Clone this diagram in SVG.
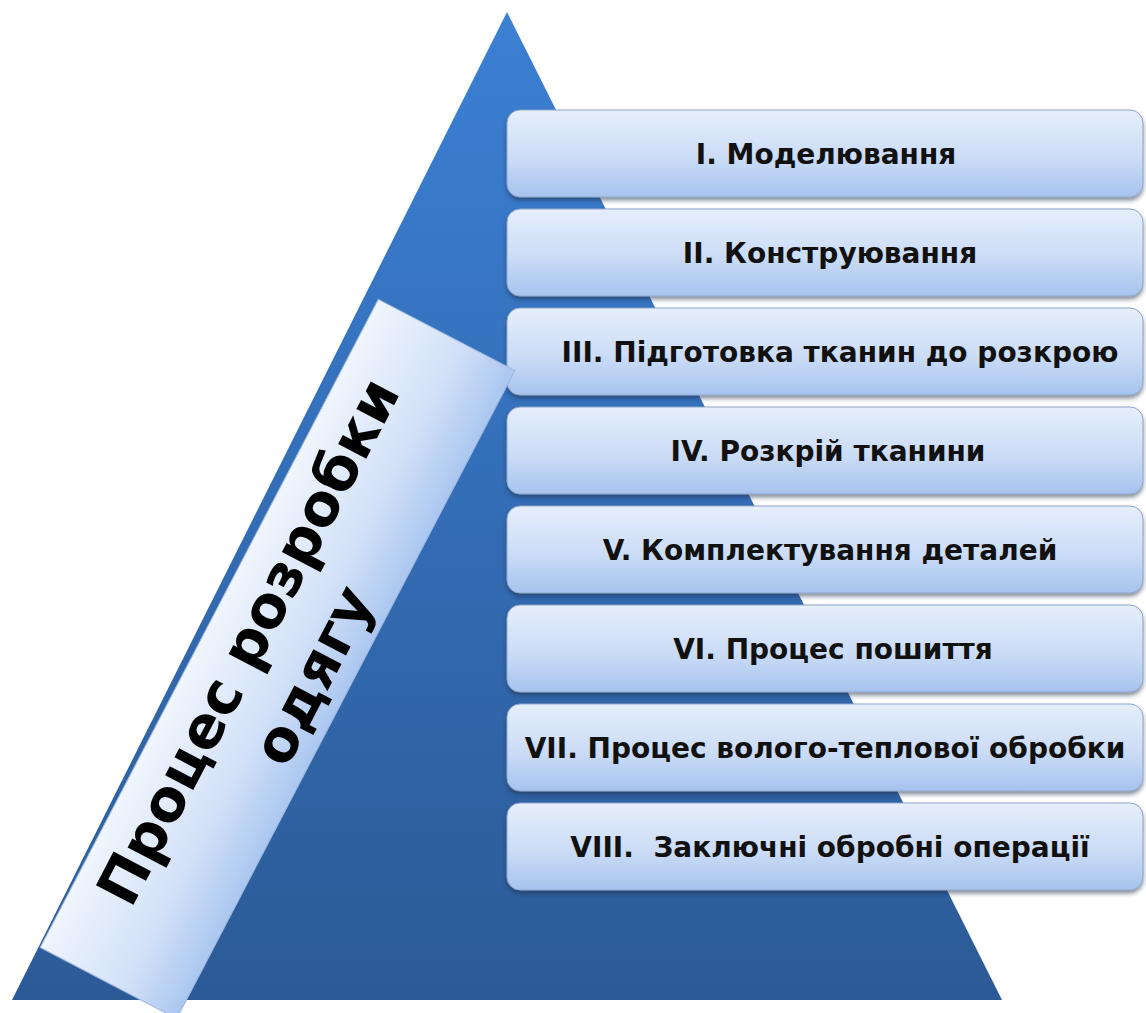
<svg xmlns="http://www.w3.org/2000/svg" width="1146" height="1013" viewBox="0 0 1146 1013">
  <defs>
    <linearGradient id="triGrad" x1="0" y1="0" x2="0" y2="1">
      <stop offset="0" stop-color="#3c80d4"/>
      <stop offset="0.5" stop-color="#336db6"/>
      <stop offset="1" stop-color="#2c5a96"/>
    </linearGradient>
    <linearGradient id="boxGrad" x1="0" y1="0" x2="0" y2="1">
      <stop offset="0" stop-color="#e6eefb"/>
      <stop offset="0.55" stop-color="#cbdcf6"/>
      <stop offset="1" stop-color="#a6c3ee"/>
    </linearGradient>
    <linearGradient id="labelGrad" x1="0" y1="0" x2="0" y2="1">
      <stop offset="0" stop-color="#f0f5fd"/>
      <stop offset="0.6" stop-color="#d2e1f8"/>
      <stop offset="1" stop-color="#abc7f0"/>
    </linearGradient>
    <filter id="shadow" x="-5%" y="-20%" width="110%" height="150%">
      <feDropShadow dx="0" dy="3" stdDeviation="2" flood-color="#1d2f4d" flood-opacity="0.55"/>
    </filter>
  </defs>
  <style>
    .box { fill: url(#boxGrad); stroke: #8ea6c8; stroke-width: 1; filter: url(#shadow); }
    .step { font-family: "DejaVu Sans", sans-serif; font-weight: bold; font-size: 28px; fill: #111; text-anchor: middle; }
    .label { fill: url(#labelGrad); stroke: #9fb8dc; stroke-width: 1; }
    .labelText { font-family: "DejaVu Sans", sans-serif; font-weight: bold; font-size: 58px; fill: #000; text-anchor: middle; }
  </style>
  <rect width="1146" height="1013" fill="#ffffff"/>
  <g id="pyramid">
    <path d="M507,12 L1002,1000 L12,1000 Z" fill="url(#triGrad)"/>
  </g>
  <g id="connectors"/>
  <g id="step1"><rect class="box" x="507" y="110" width="636" height="87" rx="13"/><text class="step" x="826" y="164">I. Моделювання</text></g>
  <g id="step2"><rect class="box" x="507" y="209" width="636" height="87" rx="13"/><text class="step" x="830" y="263">II. Конструювання</text></g>
  <g id="step3"><rect class="box" x="507" y="308" width="636" height="87" rx="13"/><text class="step" x="840" y="362">III. Підготовка тканин до розкрою</text></g>
  <g id="step4"><rect class="box" x="507" y="407" width="636" height="87" rx="13"/><text class="step" x="828" y="461">IV. Розкрій тканини</text></g>
  <g id="step5"><rect class="box" x="507" y="506" width="636" height="87" rx="13"/><text class="step" x="830" y="560">V. Комплектування деталей</text></g>
  <g id="step6"><rect class="box" x="507" y="605" width="636" height="87" rx="13"/><text class="step" x="833" y="659">VI. Процес пошиття</text></g>
  <g id="step7"><rect class="box" x="507" y="704" width="636" height="87" rx="13"/><text class="step" x="825" y="758">VII. Процес волого-теплової обробки</text></g>
  <g id="step8"><rect class="box" x="507" y="803" width="636" height="87" rx="13"/><text class="step" x="830" y="857" xml:space="preserve">VIII.  Заключні обробні операції</text></g>
  <g id="title" transform="translate(277.5,659) rotate(-62.45)">
    <rect class="label" x="-365.5" y="-77" width="731" height="154"/>
    <text class="labelText" x="2" y="-14">Процес розробки</text>
    <text class="labelText" x="2" y="59">одягу</text>
  </g>
</svg>
